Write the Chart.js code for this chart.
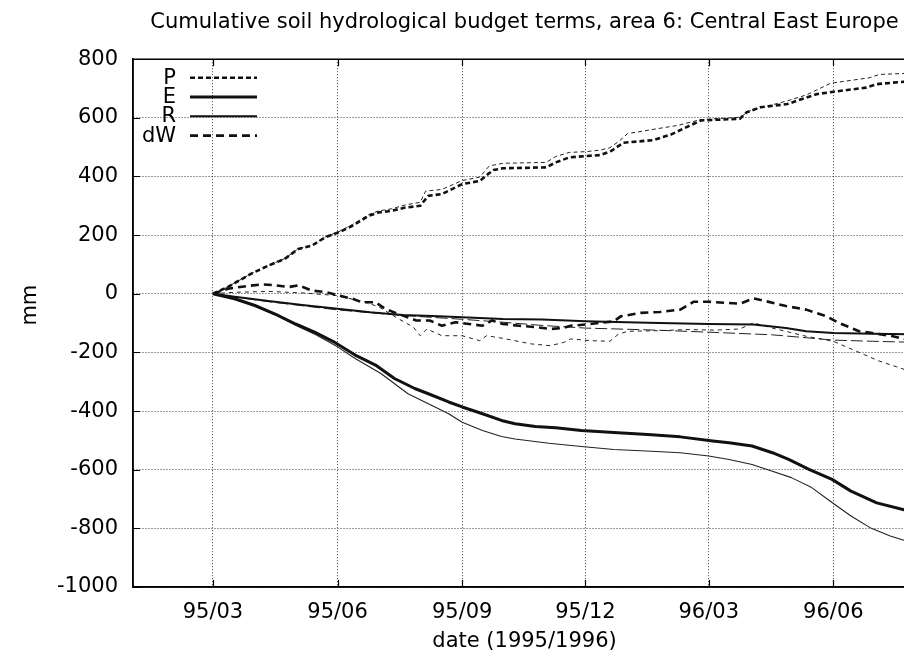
<!DOCTYPE html>
<html>
<head>
<meta charset="utf-8">
<title>Cumulative soil hydrological budget terms</title>
<script src="https://cdn.jsdelivr.net/npm/chart.js@4/dist/chart.umd.min.js"></script>
<style>
  html, body { margin: 0; padding: 0; overflow: hidden; background: #fff; }
  #wrap { width: 960px; height: 662px; }
</style>
</head>
<body>
<div id="wrap"><canvas id="c" width="960" height="662"></canvas></div>
<script>
// Days counted from 1 January 1995.
const TICK_DAYS   = [59, 151, 243, 334, 425, 517];
const TICK_LABELS = ['95/03', '95/06', '95/09', '95/12', '96/03', '96/06'];
const Y_TICKS     = [-1000, -800, -600, -400, -200, 0, 200, 400, 600, 800];

// Run A (heavy lines) and run B (light lines), cumulative mm.
const P_A_DAY = [59,70,87,100,112,122,132,142,152,162,174,181,191,201,212,218,228,243,256,262,266,273,305,312,322,335,345,353,362,384,397,409,419,448,453,463,483,495,505,517,541,549,561,572];
const P_A     = [0,23,68,96,119,153,164,193,210,232,266,277,283,294,300,334,340,374,385,408,422,428,431,448,465,470,473,487,515,524,543,569,591,597,619,636,647,666,681,689,703,715,720,724];

const P_B_DAY = [59,70,87,100,112,122,132,142,152,162,174,181,191,201,212,216,228,243,256,263,273,305,312,322,335,345,352,359,365,387,402,419,448,456,483,497,515,544,551,572];
const P_B     = [0,24,68,97,120,154,165,194,212,236,270,282,290,303,312,350,356,386,398,436,445,448,468,482,485,490,498,521,546,563,574,594,602,625,658,678,718,737,748,752];

const E_A_DAY = [59,75,90,105,120,134,149,164,179,193,208,218,233,243,258,272,282,297,312,331,355,380,404,428,440,457,472,484,499,516,530,549,572];
const E_A     = [0,-17,-40,-69,-103,-131,-166,-209,-243,-289,-323,-341,-369,-386,-409,-432,-443,-453,-457,-466,-473,-480,-488,-502,-508,-519,-542,-565,-599,-633,-673,-713,-740];

const E_B_DAY = [59,75,90,105,120,135,151,164,183,203,218,233,243,258,272,282,307,331,355,379,404,425,440,457,472,486,501,516,530,545,559,572];
const E_B     = [0,-18,-42,-72,-107,-140,-181,-221,-272,-341,-375,-409,-438,-466,-487,-495,-510,-521,-531,-536,-542,-553,-565,-582,-605,-627,-661,-712,-758,-800,-826,-845];

const R_A_DAY = [59,75,100,125,151,175,199,221,243,273,302,334,380,425,458,482,497,517,546,572];
const R_A     = [0,-10,-25,-38,-51,-63,-72,-76,-80,-86,-88,-94,-99,-103,-105,-117,-128,-134,-136,-138];

const R_B_DAY = [59,100,151,199,243,273,302,334,380,403,425,472,497,517,546,572];
const R_B     = [0,-27,-55,-74,-87,-97,-108,-117,-123,-127,-131,-140,-150,-158,-162,-165];

const W_A_DAY = [59,70,82,95,105,115,122,132,142,152,162,169,179,186,196,209,219,228,238,248,258,265,273,285,298,308,317,323,334,345,355,360,375,389,404,414,425,448,458,467,482,497,512,521,536,546,561,572];
const W_A     = [0,17,25,32,29,23,29,11,6,-6,-17,-29,-29,-51,-69,-91,-91,-109,-97,-103,-109,-91,-103,-109,-114,-120,-117,-109,-105,-99,-94,-77,-65,-62,-54,-27,-27,-34,-16,-25,-42,-54,-77,-99,-128,-134,-145,-157];

const W_B_DAY = [59,75,100,125,150,172,182,194,207,212,217,228,243,256,261,273,294,308,318,323,338,352,358,365,387,409,430,448,458,472,497,517,534,550,572];
const W_B     = [0,5,8,3,-6,-29,-46,-80,-114,-143,-120,-143,-143,-160,-143,-152,-171,-177,-166,-154,-160,-162,-139,-128,-126,-122,-124,-120,-99,-117,-145,-162,-196,-228,-262];

const LEGEND_NAMES = ['P', 'E', 'R', 'dW'];

const FONT = "'DejaVu Sans', 'Liberation Sans', sans-serif";
const TXT = { family: FONT, size: 21, weight: 'normal' };

function pts(days, vals) {
  return days.map((d, i) => ({ x: d, y: vals[i] }));
}
function line(label, days, vals, width, dash, color) {
  return {
    label,
    data: pts(days, vals),
    borderColor: color,
    borderWidth: width,
    borderDash: dash,
    pointRadius: 0,
    tension: 0,
    fill: false,
    borderCapStyle: 'butt',
    borderJoinStyle: 'round'
  };
}

const datasets = [
  // heavy set first: these also style the key
  line('P',  P_A_DAY, P_A, 2.6, [5, 3], '#111'),
  line('E',  E_A_DAY, E_A, 3.0, [],     '#111'),
  line('R',  R_A_DAY, R_A, 2.0, [],     '#111'),
  line('dW', W_A_DAY, W_A, 2.6, [8, 5], '#111'),
  // light set
  line('P (B)',  P_B_DAY, P_B, 1.0, [4, 3],  '#222'),
  line('E (B)',  E_B_DAY, E_B, 1.1, [],      '#222'),
  line('R (B)',  R_B_DAY, R_B, 1.0, [12, 4], '#222'),
  line('dW (B)', W_B_DAY, W_B, 1.0, [4, 4],  '#222')
];

// Frame, inward tick marks, key and y-axis label.
const decorations = {
  id: 'decorations',
  afterDraw(chart) {
    const { ctx, chartArea: a, scales } = chart;
    ctx.save();
    ctx.strokeStyle = '#000';
    ctx.lineWidth = 1.5;
    ctx.setLineDash([]);
    ctx.beginPath();
    ctx.moveTo(a.left, a.bottom); ctx.lineTo(a.left, a.top); ctx.lineTo(a.right, a.top);
    ctx.lineTo(a.right, a.bottom); ctx.lineTo(a.left, a.bottom);
    ctx.stroke();

    const tl = 7;
    ctx.lineWidth = 1.2;
    ctx.beginPath();
    scales.x.ticks.forEach(t => {
      const x = Math.round(scales.x.getPixelForValue(t.value)) + 0.5;
      ctx.moveTo(x, a.bottom); ctx.lineTo(x, a.bottom - tl);
      ctx.moveTo(x, a.top);    ctx.lineTo(x, a.top + tl);
    });
    scales.y.ticks.forEach(t => {
      const y = Math.round(scales.y.getPixelForValue(t.value)) + 0.5;
      ctx.moveTo(a.left, y);  ctx.lineTo(a.left + tl, y);
      ctx.moveTo(a.right, y); ctx.lineTo(a.right - tl, y);
    });
    ctx.stroke();

    // key, text to the left of each line sample
    ctx.font = `${TXT.size}px ${FONT}`;
    ctx.fillStyle = '#000';
    ctx.textAlign = 'right';
    ctx.textBaseline = 'middle';
    LEGEND_NAMES.forEach((name, i) => {
      const ds = chart.data.datasets[i];
      const y = a.top + 18 + i * 19.3;
      ctx.fillText(name, a.left + 43, y + 1);
      ctx.save();
      ctx.strokeStyle = ds.borderColor;
      ctx.lineWidth = ds.borderWidth;
      ctx.setLineDash(ds.borderDash);
      ctx.beginPath();
      ctx.moveTo(a.left + 57, y + 0.5);
      ctx.lineTo(a.left + 124, y + 0.5);
      ctx.stroke();
      ctx.restore();
    });

    // y-axis label
    ctx.save();
    ctx.translate(31, a.top + (a.bottom - a.top) * 0.466);
    ctx.rotate(-Math.PI / 2);
    ctx.textAlign = 'center';
    ctx.fillText('mm', 0, 0);
    ctx.restore();
    ctx.restore();
  }
};

new Chart(document.getElementById('c'), {
  type: 'line',
  data: { datasets },
  options: {
    responsive: false,
    animation: false,
    devicePixelRatio: 1,
    layout: { padding: { left: 0, right: 44, top: 0, bottom: 0 } },
    plugins: {
      legend: { display: false },
      tooltip: { enabled: false },
      title: {
        display: true,
        fullSize: false,
        text: 'Cumulative soil hydrological budget terms, area 6: Central East Europe',
        color: '#000',
        font: TXT,
        padding: { top: 10, bottom: 24 }
      }
    },
    scales: {
      x: {
        type: 'linear',
        min: 0,
        max: 578,
        afterBuildTicks(scale) { scale.ticks = TICK_DAYS.map(v => ({ value: v })); },
        afterFit(scale) { scale.height = 75; },
        ticks: {
          autoSkip: false,
          maxRotation: 0,
          padding: 13,
          color: '#000',
          font: TXT,
          callback: (v, i) => TICK_LABELS[i]
        },
        grid: { color: '#3a3a3a', lineWidth: 1, drawTicks: false },
        border: { display: true, color: '#000', width: 1.5, dash: [1, 2] },
        title: {
          display: true,
          text: 'date (1995/1996)',
          color: '#000',
          font: TXT,
          padding: { top: 3, bottom: 8 }
        }
      },
      y: {
        min: Y_TICKS[0],
        max: Y_TICKS[Y_TICKS.length - 1],
        afterBuildTicks(scale) { scale.ticks = Y_TICKS.map(v => ({ value: v })); },
        afterFit(scale) { scale.width = 133; },
        ticks: { padding: 15, color: '#000', font: TXT, callback: v => String(v) },
        grid: { color: '#3a3a3a', lineWidth: 1, drawTicks: false },
        border: { display: true, color: '#000', width: 1.5, dash: [1, 2] }
      }
    }
  },
  plugins: [decorations]
});
</script>
</body>
</html>
